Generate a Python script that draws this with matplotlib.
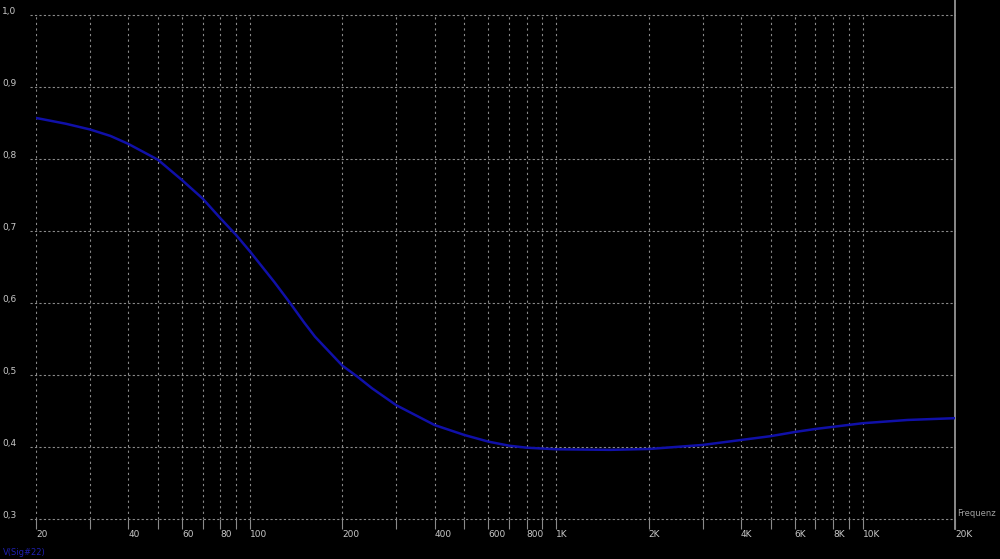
import numpy as np
import matplotlib.pyplot as plt
import matplotlib.transforms as mtransforms

# Frequency response
freq = [20, 25, 30, 35, 40, 50, 60, 70, 80, 90, 100, 120, 135, 150, 163, 200, 225,
        250, 300, 400, 500, 600, 700, 800, 1000, 1500, 2000, 3000, 4000, 5000, 6000,
        7000, 8000, 10000, 14000, 20000]
volt = [0.857, 0.849, 0.841, 0.832, 0.821, 0.799, 0.7705, 0.745, 0.7176, 0.6944,
        0.6713, 0.629, 0.600, 0.573, 0.553, 0.513, 0.497, 0.4815, 0.458, 0.4305,
        0.4167, 0.4074, 0.4018, 0.399, 0.3968, 0.396, 0.3972, 0.4028, 0.4097, 0.415,
        0.4208, 0.425, 0.428, 0.433, 0.4375, 0.440]

y_ticks = [0.3, 0.4, 0.5, 0.6, 0.7, 0.8, 0.9, 1.0]
y_labels = ["0,3", "0,4", "0,5", "0,6", "0,7", "0,8", "0,9", "1,0"]
x_major = [20, 40, 60, 80, 100, 200, 400, 600, 800, 1000, 2000, 4000, 6000, 8000, 10000, 20000]
x_labels = ["20", "40", "60", "80", "100", "200", "400", "600", "800",
            "1K", "2K", "4K", "6K", "8K", "10K", "20K"]
x_minor = [30, 50, 70, 90, 300, 500, 700, 900, 3000, 5000, 7000, 9000]

grid_col = "#8a8a8a"
text_col = "#c8c8c8"

fig = plt.figure(figsize=(10, 5.59), dpi=100, facecolor="black")
ax = fig.add_axes([0.036, 0.0716, 0.919, 0.9016], facecolor="black")
ax.set_xscale("log")
ax.set_xlim(20, 20000)
ax.set_ylim(0.3, 1.0)
for s in ax.spines.values():
    s.set_visible(False)

# vertical grid
for f in x_major + x_minor:
    ax.axvline(f, color=grid_col, lw=0.8, ls=(0, (2, 3)), zorder=1)

# horizontal grid, a bit left of the plot
trans = mtransforms.blended_transform_factory(ax.transAxes, ax.transData)
for v in y_ticks:
    ax.plot([-0.007, 1], [v, v], transform=trans, color=grid_col, lw=0.8,
            ls=(0, (2, 2)), clip_on=False, zorder=1)

# right border line
ax.plot([1, 1], [-0.02, 1.05], transform=ax.transAxes, color="#a0a0a0",
        lw=1.2, clip_on=False, zorder=1)

ax.plot(freq, volt, color="#1010a8", lw=1.8, zorder=3, solid_joinstyle="round")

# ticks
ax.set_xticks(x_major)
ax.set_xticks(x_minor, minor=True)
ax.set_xticklabels(x_labels)
ax.tick_params(axis="x", which="both", direction="out", length=7, width=0.8,
               color=grid_col, labelsize=6.5, labelcolor=text_col, pad=1)
for lab in ax.get_xticklabels():
    lab.set_horizontalalignment("left")
ax.set_yticks([])

ytrans = mtransforms.blended_transform_factory(fig.transFigure, ax.transData)
for v, lab in zip(y_ticks, y_labels):
    ax.text(0.002, v + 0.0045, lab, transform=ytrans, color=text_col, fontsize=6.5,
            ha="left", va="center")

fig.text(0.957, 0.073, "Frequenz", color="#a0a0a0", fontsize=6, ha="left", va="bottom")
fig.text(0.003, 0.003, "V(Sig#22)", color="#2020b0", fontsize=6, ha="left", va="bottom")

fig.savefig("out.png", dpi=100, facecolor="black")
